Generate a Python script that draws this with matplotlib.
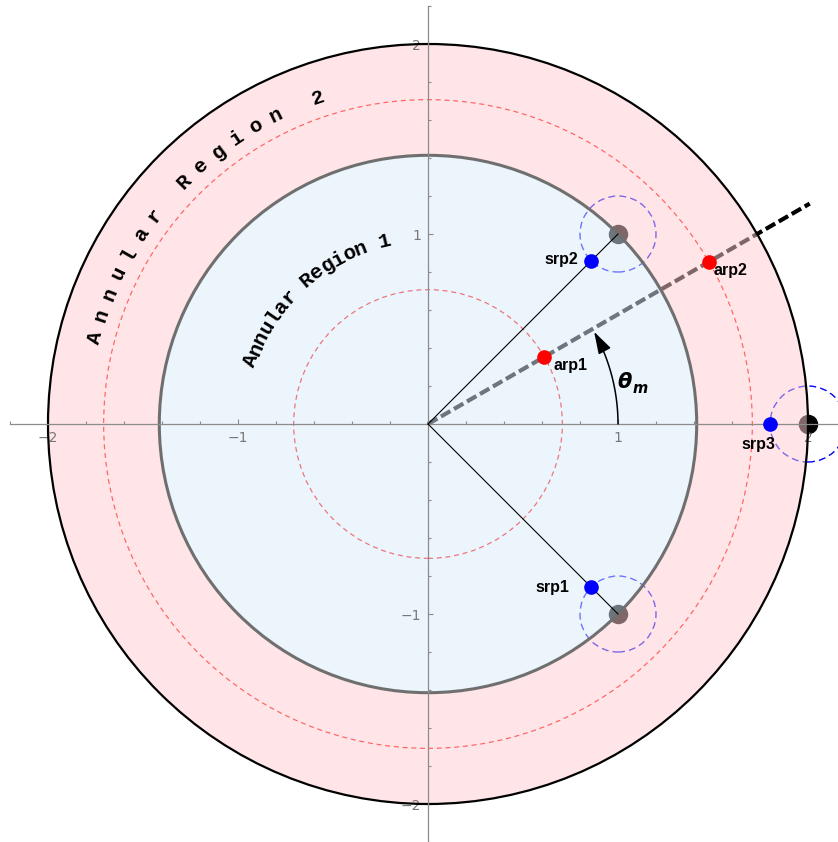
import numpy as np
import matplotlib
matplotlib.use("Agg")
import matplotlib.pyplot as plt
from matplotlib.patches import Circle, Annulus, FancyArrowPatch
from matplotlib.path import Path
from matplotlib.ticker import MultipleLocator

# geometry of the two annular regions
r_inner = np.sqrt(2)
r_outer = 2.0
r_mid1 = r_inner / 2
r_mid2 = (r_inner + r_outer) / 2
theta_m = 30.0          # degrees
ray_len = 2.32

# anchor points (gray) and their search radius
anchor_x = [1.0, 1.0, 2.0]
anchor_y = [1.0, -1.0, 0.0]
search_r = 0.2

# search reference points
srp_labels = ["srp1", "srp2", "srp3"]
srp_x = [0.859, 0.859, 1.80]
srp_y = [-0.859, 0.859, 0.0]
srp_lab_x = [0.655, 0.70, 1.74]
srp_lab_y = [-0.86, 0.865, -0.11]

# angular reference points
arp_labels = ["arp1", "arp2"]
arp_r = [r_mid1, r_mid2]
arp_lab_x = [0.75, 1.59]
arp_lab_y = [0.31, 0.81]

x_ticks = [-2, -1, 1, 2]
y_ticks = [-2, -1, 1, 2]

fig = plt.figure(figsize=(8.38, 8.42), dpi=100)
ax = fig.add_axes([0, 0, 1, 1])
ax.set_xlim(-428 / 190, 410 / 190)
ax.set_ylim(-418 / 190, 424 / 190)

# things that sit underneath the translucent regions
th = np.deg2rad(theta_m)
ax.plot([0, ray_len * np.cos(th)], [0, ray_len * np.sin(th)], color="black",
        lw=3, dashes=(2.6, 1.0), solid_capstyle="butt", zorder=1)
for cx, cy in zip(anchor_x, anchor_y):
    ax.add_patch(Circle((cx, cy), search_r, fill=False, ec="blue", lw=1.0,
                        ls=(0, (5, 3)), zorder=1))
ax.plot(anchor_x, anchor_y, "o", color="black", ms=13, zorder=1.1)
for rr in [r_mid1, r_mid2]:
    ax.add_patch(Circle((0, 0), rr, fill=False, ec="red", lw=0.9,
                        ls=(0, (4, 3)), zorder=1))

# translucent regions
ax.add_patch(Annulus((0, 0), r_outer, r_outer - r_inner, fc="#ffcdd1",
                     ec="none", alpha=0.5, zorder=1.5))
ax.add_patch(Circle((0, 0), r_inner, fc="#dbebfb", ec="none", alpha=0.5,
                    zorder=1.5))
ax.add_patch(Circle((0, 0), r_outer, fill=False, ec="black", lw=1.6, zorder=2))
ax.add_patch(Circle((0, 0), r_inner, fill=False, ec="#6f6f6f", lw=2.2, zorder=2))

# axes in the middle, Mathematica style
for side in ["top", "right"]:
    ax.spines[side].set_visible(False)
for side in ["left", "bottom"]:
    ax.spines[side].set_position(("data", 0))
    ax.spines[side].set_color("#8c8c8c")
    ax.spines[side].set_linewidth(0.9)
ax.spines["bottom"].set_bounds(-2.2, 2.2)
ax.spines["left"].set_bounds(-2.2, 2.2)
ax.set_xticks(x_ticks)
ax.set_yticks(y_ticks)
ax.set_xticklabels([f"{t:g}".replace("-", "\u2212") for t in x_ticks])
ax.set_yticklabels([f"{t:g}".replace("-", "\u2212") for t in y_ticks])
ax.xaxis.set_minor_locator(MultipleLocator(0.2))
ax.yaxis.set_minor_locator(MultipleLocator(0.2))
ax.tick_params(which="both", direction="in", color="#8c8c8c", width=0.8,
               labelcolor="#777777", labelsize=10)
ax.tick_params(which="major", length=3.5, pad=5)
ax.tick_params(which="minor", length=2)

# lines to the anchors
for cx, cy in zip(anchor_x[:2], anchor_y[:2]):
    ax.plot([0, cx], [0, cy], color="black", lw=0.8, zorder=4)

# theta_m arc arrow
arc = np.deg2rad(np.linspace(0, theta_m - 1.0, 40))
arrow = FancyArrowPatch(path=Path(np.column_stack([np.cos(arc), np.sin(arc)])),
                        arrowstyle="-|>,head_length=0.9,head_width=0.28",
                        mutation_scale=15, color="black", lw=1.1,
                        shrinkA=0, shrinkB=0, zorder=4)
ax.add_patch(arrow)
ax.text(1.035, 0.22, "\u03b8", fontsize=15, fontweight="bold", fontstyle="italic",
        family="DejaVu Sans", ha="center", va="center", zorder=5)
ax.text(1.115, 0.185, "m", fontsize=10.5, fontweight="bold", fontstyle="italic",
        family="DejaVu Sans", ha="center", va="center", zorder=5)

# reference points
ax.plot(srp_x, srp_y, "o", color="#0000ff", ms=9.5, zorder=5)
for lab, lx, ly in zip(srp_labels, srp_lab_x, srp_lab_y):
    ax.text(lx, ly, lab, fontsize=11.5, fontweight="bold", family="Liberation Sans",
            ha="center", va="center", zorder=5)
ax.plot([r * np.cos(th) for r in arp_r], [r * np.sin(th) for r in arp_r], "o",
        color="#ff0000", ms=9.5, zorder=5)
for lab, lx, ly in zip(arp_labels, arp_lab_x, arp_lab_y):
    ax.text(lx, ly, lab, fontsize=11.5, fontweight="bold", family="Liberation Sans",
            ha="center", va="center", zorder=5)


def arc_text(s, r, start_deg, step_deg, size):
    for i, ch in enumerate(s):
        if ch == " ":
            continue
        a = np.deg2rad(start_deg - i * step_deg)
        ax.text(r * np.cos(a), r * np.sin(a), ch, rotation=np.rad2deg(a) - 90,
                rotation_mode="anchor", ha="center", va="center",
                family="Liberation Mono", fontweight="bold", fontsize=size,
                zorder=5)


arc_text("Annular Region 1", 0.99, 160.2, 3.79, 15)
arc_text("A n n u l a r   R e g i o n   2", 1.81, 165.4, 1.893, 15)

fig.savefig("out.png", dpi=100)
